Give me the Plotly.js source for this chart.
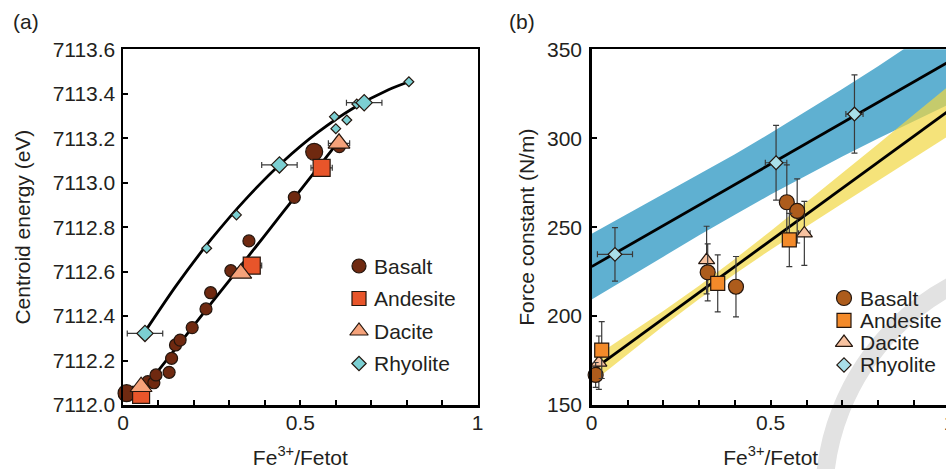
<!DOCTYPE html>
<html><head><meta charset="utf-8">
<script src="https://cdn.plot.ly/plotly-3.0.1.min.js"></script>
<style>html,body{margin:0;padding:0;overflow:hidden;background:#fff}#chart{width:960px;height:469px}</style>
</head><body><div id="chart"></div>
<script>
// ---------------- Panel (a): centroid energy vs Fe3+/Fetot ----------------
const aBasaltLargeX = [0.010, 0.539];
const aBasaltLargeY = [7112.053, 7113.139];
const aBasaltSmallX = [0.070, 0.087, 0.093, 0.130, 0.137, 0.148, 0.161, 0.195, 0.234, 0.247, 0.304, 0.355, 0.483, 0.610];
const aBasaltSmallY = [7112.105, 7112.100, 7112.135, 7112.147, 7112.210, 7112.270, 7112.292, 7112.348, 7112.432, 7112.505, 7112.604, 7112.738, 7112.934, 7113.162];
const aAndesiteX = [0.051, 0.363, 0.560];
const aAndesiteY = [7112.045, 7112.627, 7113.067];
const aAndesiteErrX = [0, 0.028, 0.03];
const aDaciteX = [0.051, 0.332, 0.609];
const aDaciteY = [7112.082, 7112.592, 7113.177];
const aDaciteErrX = [0, 0, 0.03];
const aRhyoliteLargeX = [0.062, 0.441, 0.680];
const aRhyoliteLargeY = [7112.322, 7113.080, 7113.360];
const aRhyoliteLargeErrX = [0.05, 0.05, 0.05];
const aRhyoliteSmallX = [0.236, 0.320, 0.596, 0.600, 0.631, 0.659, 0.806];
const aRhyoliteSmallY = [7112.705, 7112.855, 7113.297, 7113.243, 7113.282, 7113.354, 7113.454];
const aFitRhyoliteX = [0.062, 0.15, 0.25, 0.35, 0.45, 0.55, 0.65, 0.75, 0.806];
const aFitRhyoliteY = [7112.330, 7112.537, 7112.748, 7112.933, 7113.093, 7113.227, 7113.336, 7113.419, 7113.454];
const aFitMaficX = [0.04, 0.15, 0.25, 0.35, 0.45, 0.55, 0.61];
const aFitMaficY = [7112.034, 7112.257, 7112.460, 7112.662, 7112.865, 7113.068, 7113.190];

// ---------------- Panel (b): force constant vs Fe3+/Fetot ----------------
const bBasaltX = [0.011, 0.324, 0.403, 0.545, 0.574];
const bBasaltY = [166.9, 224.6, 216.5, 264.0, 259.1];
const bBasaltErrY = [7, 16, 17, 21, 18];
const bAndesiteX = [0.028, 0.352, 0.552];
const bAndesiteY = [180.9, 218.4, 242.8];
const bAndesiteErrY = [16, 16, 15];
const bDaciteX = [0.020, 0.321, 0.594];
const bDaciteY = [173.8, 231.5, 246.5];
const bDaciteErrY = [15, 19, 18];
const bDaciteErrX = [0, 0, 0.016];
const bRhyoliteX = [0.065, 0.515, 0.734];
const bRhyoliteY = [234.7, 286.2, 313.6];
const bRhyoliteErrY = [15, 21, 22];
const bRhyoliteErrX = [0.049, 0.03, 0.024];
const bRhyoliteBandX = [0, 0.1, 0.2, 0.3, 0.4, 0.5, 0.6, 0.7, 0.8, 0.9, 1.0];
const bRhyoliteUpper = [246.3, 257.4, 268.4, 279.5, 291.0, 302.9, 315.1, 327.7, 340.5, 353.8, 367.3];
const bRhyoliteLower = [209.3, 221.4, 233.4, 245.5, 257.0, 268.3, 279.1, 289.7, 299.9, 309.8, 319.3];
const bRhyoliteFitX = [0, 1.0];
const bRhyoliteFitY = [227.8, 343.3];
const bMaficBandX = [0.011, 0.1, 0.2, 0.3, 0.4, 0.5, 0.6, 0.7, 0.8, 0.9, 1.0];
const bMaficUpper = [177.6, 189.3, 202.8, 217.0, 232.1, 247.9, 264.1, 280.5, 296.8, 313.3, 329.8];
const bMaficLower = [164.2, 178.7, 194.4, 209.6, 223.7, 237.3, 250.3, 263.3, 276.2, 289.1, 301.8];
const bMaficFitX = [0.011, 1.0];
const bMaficFitY = [170.9, 315.8];

const legendLabels = ['Basalt', 'Andesite', 'Dacite', 'Rhyolite'];
const xTitle = 'Fe<sup>3+</sup>/Fetot';

// ---------------- styling ----------------
const FONT = 'Liberation Sans, Arial, Helvetica, sans-serif';
const TXT = '#231f20';
const OUT = '#24160e';
const symbols = ['circle', 'square', 'triangle-up', 'diamond'];
const colA = ['#6f2910', '#e8552a', '#f5a27a', '#7bcfd2'];
const colB = ['#ad5c1c', '#f38a2a', '#f7c2a0', '#a9dfe9'];
const W = 960, H = 469;
const ERR = {color: '#3a3a3a', thickness: 1.2, width: 3};

function errX(arr) { return Object.assign({type: 'data', array: arr, visible: true}, ERR); }
function pts(x, y, xa, ya, sym, col, size, extra) {
  return Object.assign({type: 'scatter', mode: 'markers', x: x, y: y, xaxis: xa, yaxis: ya,
    cliponaxis: false, showlegend: false, hoverinfo: 'skip',
    marker: {symbol: sym, color: col, size: size, opacity: 1, line: {color: OUT, width: 1.2}}}, extra || {});
}
function line(x, y, xa, ya, shape) {
  return {type: 'scatter', mode: 'lines', x: x, y: y, xaxis: xa, yaxis: ya, showlegend: false, hoverinfo: 'skip',
    line: {color: '#000', width: 2.8, shape: shape || 'linear', smoothing: 0.8}};
}
function band(x, up, lo, xa, ya, fill) {
  return {type: 'scatter', mode: 'lines', x: x.concat(x.slice().reverse()), y: up.concat(lo.slice().reverse()),
    xaxis: xa, yaxis: ya, fill: 'toself', fillcolor: fill, line: {width: 0}, showlegend: false, hoverinfo: 'skip'};
}

const traces = [
  // panel a
  line(aFitRhyoliteX, aFitRhyoliteY, 'x', 'y', 'spline'),
  line(aFitMaficX, aFitMaficY, 'x', 'y', 'spline'),
  pts(aBasaltLargeX, aBasaltLargeY, 'x', 'y', 'circle', colA[0], 17),
  pts(aBasaltSmallX, aBasaltSmallY, 'x', 'y', 'circle', colA[0], 12),
  pts(aAndesiteX, aAndesiteY, 'x', 'y', 'square', colA[1], 17, {error_x: errX(aAndesiteErrX)}),
  pts(aDaciteX, aDaciteY, 'x', 'y', 'triangle-up', colA[2], 19, {error_x: errX(aDaciteErrX)}),
  pts(aRhyoliteSmallX, aRhyoliteSmallY, 'x', 'y', 'diamond', colA[3], 7.5),
  pts(aRhyoliteLargeX, aRhyoliteLargeY, 'x', 'y', 'diamond', colA[3], 12.5, {error_x: errX(aRhyoliteLargeErrX)}),
  // panel b
  band(bRhyoliteBandX, bRhyoliteUpper, bRhyoliteLower, 'x2', 'y2', '#5fb0d1'),
  band(bMaficBandX, bMaficUpper, bMaficLower, 'x2', 'y2', 'rgba(241,215,65,0.7)'),
  line(bRhyoliteFitX, bRhyoliteFitY, 'x2', 'y2'),
  line(bMaficFitX, bMaficFitY, 'x2', 'y2'),
  pts(bDaciteX, bDaciteY, 'x2', 'y2', 'triangle-up', colB[2], 14,
      {error_y: Object.assign({type: 'data', array: bDaciteErrY}, ERR), error_x: errX(bDaciteErrX)}),
  pts(bBasaltX, bBasaltY, 'x2', 'y2', 'circle', colB[0], 15,
      {error_y: Object.assign({type: 'data', array: bBasaltErrY}, ERR)}),
  pts(bAndesiteX, bAndesiteY, 'x2', 'y2', 'square', colB[1], 14,
      {error_y: Object.assign({type: 'data', array: bAndesiteErrY}, ERR)}),
  pts(bRhyoliteX, bRhyoliteY, 'x2', 'y2', 'diamond', colB[3], 10.5,
      {error_y: Object.assign({type: 'data', array: bRhyoliteErrY}, ERR), error_x: errX(bRhyoliteErrX)}),
];

// custom legends (pixel overlay axis)
const legA = {mx: 359, y0: 266, step: 32.5, tx: 372, sizes: [14, 14, 16, 11]};
const legB = {mx: 844, y0: 298, step: 22.3, tx: 858, sizes: [15, 14, 15, 11]};
const annotations = [];
[[legA, colA], [legB, colB]].forEach(([L, cols]) => {
  const ys = legendLabels.map((_, i) => L.y0 + i * L.step);
  traces.push({type: 'scatter', mode: 'markers', x: legendLabels.map(() => L.mx), y: ys, xaxis: 'x3', yaxis: 'y3',
    cliponaxis: false, showlegend: false, hoverinfo: 'skip',
    marker: {symbol: symbols, color: cols, size: L.sizes, opacity: 1, line: {color: OUT, width: 1.2}}});
  legendLabels.forEach((lab, i) => annotations.push({xref: 'x3', yref: 'y3', x: L.tx, y: ys[i], text: lab,
    showarrow: false, xanchor: 'left', yanchor: 'middle', font: {family: FONT, size: 21, color: TXT}}));
});
annotations.push({xref: 'x3', yref: 'y3', x: 11, y: 21, text: '(a)', showarrow: false, xanchor: 'left', yanchor: 'middle', font: {family: FONT, size: 21, color: TXT}});
annotations.push({xref: 'x3', yref: 'y3', x: 507, y: 21, text: '(b)', showarrow: false, xanchor: 'left', yanchor: 'middle', font: {family: FONT, size: 21, color: TXT}});

const common = {
  showline: true, linecolor: '#000', linewidth: 2.5, mirror: true,
  ticks: 'inside', ticklen: 5, tickwidth: 2, tickcolor: '#000',
  showgrid: false, zeroline: false, fixedrange: true,
  tickfont: {family: FONT, size: 21, color: TXT}
};
const yDom = [(H - 405) / H, (H - 49.3) / H];
const minorX = {dtick: 0.1, tick0: 0, ticks: 'inside', ticklen: 5, tickwidth: 2, tickcolor: '#000', showgrid: false};

const layout = {
  width: W, height: H, margin: {l: 0, r: 0, t: 0, b: 0},
  paper_bgcolor: '#fff', plot_bgcolor: 'rgba(0,0,0,0)', hovermode: false, showlegend: false,
  font: {family: FONT, size: 21, color: TXT},
  xaxis: Object.assign({}, common, {domain: [123 / W, 477.7 / W], range: [0, 1], dtick: 0.5, tick0: 0, anchor: 'y',
    minor: minorX, ticklabelstandoff: -3,
    title: {text: xTitle, font: {family: FONT, size: 21, color: TXT}, standoff: 19}}),
  yaxis: Object.assign({}, common, {domain: yDom, range: [7111.9999, 7113.6001], dtick: 0.2, tick0: 7112, tickformat: '.1f', anchor: 'x',
    ticklabelstandoff: 1,
    title: {text: 'Centroid energy (eV)', font: {family: FONT, size: 21, color: TXT}, standoff: 17}}),
  xaxis2: Object.assign({}, common, {domain: [591.7 / W, 949.7 / W], range: [0, 1], dtick: 0.5, tick0: 0, anchor: 'y2',
    minor: minorX, ticklabelstandoff: -3,
    title: {text: xTitle, font: {family: FONT, size: 21, color: TXT}, standoff: 19}}),
  yaxis2: Object.assign({}, common, {domain: yDom, range: [150, 350], dtick: 50, tick0: 150, anchor: 'x2',
    ticklabelstandoff: 3,
    title: {text: 'Force constant (N/m)', font: {family: FONT, size: 21, color: TXT}, standoff: 7}}),
  xaxis3: {domain: [0, 1], range: [0, W], visible: false, anchor: 'y3', fixedrange: true},
  yaxis3: {domain: [0, 1], range: [H, 0], visible: false, anchor: 'x3', fixedrange: true},
  shapes: [{type: 'circle', xref: 'paper', yref: 'paper', layer: 'below',
    x0: (1066 - 242) / W, x1: (1066 + 242) / W, y0: (H - 741) / H, y1: (H - 257) / H,
    line: {color: '#e2e2e2', width: 18}}],
  annotations: annotations
};

Plotly.newPlot('chart', traces, layout, {staticPlot: true, displayModeBar: false});
</script>
</body></html>
